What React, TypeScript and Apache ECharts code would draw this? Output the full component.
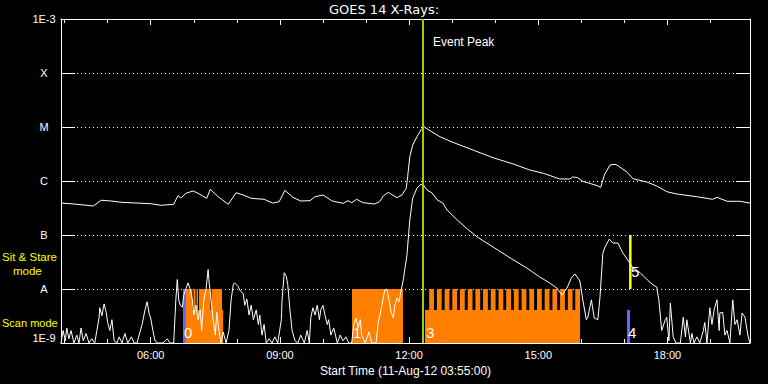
import React, { useEffect, useRef } from "react";
import * as echarts from "echarts";

const FONT = '"Liberation Sans", Arial, sans-serif';
const TITLE_FONT = '"DejaVu Sans", sans-serif';

// ---------- axes ----------
const timeRange = ["03:55", "19:55"];
const xLabelTimes = ["06:00", "09:00", "12:00", "15:00", "18:00"];
const xHourTicks = ["04:00", "05:00", "06:00", "07:00", "08:00", "09:00", "10:00", "11:00", "12:00", "13:00", "14:00", "15:00", "16:00", "17:00", "18:00", "19:00"];
const fluxRange = [1e-9, 1e-3];
const yTickLabels = ["1E-9", "A", "B", "C", "M", "X", "1E-3"];
const xAxisTitle = "Start Time (11-Aug-12 03:55:00)";
const chartTitle = "GOES 14 X-Rays:";
const eventPeakTime = "12:19:24";

// ---------- levels ----------
const FLOOR = 1e-9;
const SCAN_TOP = 4.1e-9;
const A_LEVEL = 1e-8;
const B_LEVEL = 1e-7;

// ---------- GOES 1-8 A (long channel) ----------
const longChannel: [string, number][] = [
  ["03:55", 3.9e-7], ["04:13", 3.75e-7], ["04:23", 3.64e-7], ["04:40", 3.44e-7], ["04:51", 4.4e-7],
  ["05:05", 4.26e-7], ["05:19", 4.03e-7], ["06:00", 3.8e-7], ["06:14", 3.55e-7], ["06:32", 3.7e-7],
  ["06:38", 5.35e-7], ["06:42", 4.84e-7], ["06:49", 5.92e-7], ["06:59", 6.53e-7], ["07:06", 5.92e-7],
  ["07:18", 4.78e-7], ["07:23", 7.0e-7], ["07:34", 5.12e-7], ["07:48", 3.7e-7], ["07:59", 6.07e-7],
  ["08:09", 5.5e-7], ["08:20", 4.78e-7], ["08:38", 4.58e-7], ["08:50", 3.9e-7], ["08:59", 4.14e-7],
  ["09:07", 6.73e-7], ["09:18", 4.99e-7], ["09:29", 4.26e-7], ["09:42", 4.32e-7], ["09:49", 5.12e-7],
  ["10:00", 5.5e-7], ["10:13", 4.26e-7], ["10:28", 3.86e-7], ["10:35", 4.32e-7], ["10:40", 3.96e-7],
  ["10:47", 4.58e-7], ["10:56", 3.96e-7], ["11:12", 3.75e-7], ["11:19", 4.14e-7], ["11:24", 5.27e-7],
  ["11:31", 6.18e-7], ["11:43", 4.91e-7], ["11:50", 5.5e-7], ["11:56", 7.33e-7], ["11:58", 1.2e-6],
  ["12:01", 2.82e-6], ["12:05", 4.64e-6], ["12:11", 6.6e-6], ["12:17", 9.06e-6], ["12:21", 1.01e-5],
  ["12:26", 9.06e-6], ["12:43", 6.6e-6], ["13:01", 5.2e-6], ["13:29", 3.75e-6], ["13:57", 2.7e-6],
  ["14:25", 2.07e-6], ["14:48", 1.6e-6], ["15:07", 1.39e-6], ["15:30", 1.09e-6], ["15:44", 1.09e-6],
  ["15:48", 1.19e-6], ["15:55", 1.15e-6], ["16:02", 9.9e-7], ["16:22", 8.2e-7], ["16:27", 7.64e-7],
  ["16:32", 1.29e-6], ["16:40", 1.98e-6], ["16:47", 2.04e-6], ["16:51", 1.92e-6], ["17:04", 1.45e-6],
  ["17:12", 1.1e-6], ["17:31", 9.6e-7], ["17:45", 8.1e-7], ["17:59", 6.34e-7], ["18:13", 5.74e-7],
  ["18:41", 5.12e-7], ["19:03", 4.58e-7], ["19:09", 4.99e-7], ["19:23", 4.21e-7], ["19:41", 4.21e-7],
  ["19:55", 3.9e-7],
];

// ---------- GOES 0.5-4 A (short channel) ----------
const shortQuietMorning: [string, number][] = [
  ["03:55", 1.0e-9], ["03:58", 1.7e-9], ["04:01", 1.1e-9], ["04:03", 1.9e-9], ["04:06", 1.2e-9],
  ["04:09", 1.7e-9], ["04:13", 1.0e-9], ["04:17", 1.4e-9], ["04:20", 1.0e-9], ["04:23", 1.9e-9],
  ["04:26", 1.1e-9], ["04:30", 1.5e-9], ["04:34", 1.0e-9], ["04:38", 1.2e-9], ["04:42", 1.0e-9],
  ["04:45", 1.7e-9], ["04:48", 2.9e-9], ["04:49", 4.5e-9], ["04:52", 3.2e-9], ["04:55", 5.3e-9],
  ["04:58", 3.7e-9], ["05:00", 2.4e-9], ["05:03", 1.7e-9], ["05:06", 2.7e-9], ["05:09", 1.1e-9],
  ["05:13", 1.0e-9], ["05:16", 1.3e-9], ["05:20", 1.0e-9], ["05:24", 1.5e-9], ["05:28", 1.0e-9],
  ["05:33", 1.3e-9], ["05:37", 1.0e-9], ["05:41", 1.0e-9], ["05:45", 1.6e-9], ["05:48", 2.2e-9],
  ["05:52", 4.1e-9], ["05:55", 5.8e-9], ["05:58", 3.4e-9], ["06:00", 2.9e-9], ["06:03", 1.7e-9],
  ["06:06", 1.1e-9], ["06:10", 1.0e-9], ["06:17", 1.0e-9], ["06:23", 1.2e-9], ["06:27", 1.0e-9],
  ["06:32", 1.0e-9], ["06:35", 6.3e-9], ["06:37", 1.5e-8], ["06:39", 6.3e-9], ["06:41", 5.0e-9],
  ["06:44", 4.6e-9], ["06:46", 7.7e-9], ["06:49", 1.0e-8], ["06:52", 1.3e-8], ["06:55", 1.0e-8],
  ["06:58", 6.3e-9], ["07:00", 3.3e-9], ["07:03", 5.0e-9], ["07:06", 2.7e-9], ["07:09", 4.1e-9],
  ["07:11", 1.7e-9], ["07:14", 6.3e-9], ["07:17", 9.6e-9], ["07:20", 2.3e-8], ["07:21", 1.5e-8],
  ["07:24", 6.3e-9], ["07:27", 2.7e-9], ["07:30", 1.4e-9], ["07:32", 3.7e-9], ["07:35", 1.7e-9],
  ["07:38", 1.0e-9], ["07:41", 1.6e-9], ["07:45", 1.0e-9], ["07:49", 1.7e-9], ["07:52", 6.3e-9],
  ["07:55", 1.2e-8], ["07:57", 1.3e-8], ["08:02", 1.1e-8], ["08:04", 9.6e-9], ["08:09", 8.1e-9],
  ["08:11", 5.0e-9], ["08:14", 6.5e-9], ["08:17", 3.3e-9], ["08:20", 5.0e-9], ["08:23", 2.7e-9],
  ["08:27", 4.1e-9], ["08:30", 2.2e-9], ["08:32", 3.3e-9], ["08:35", 1.4e-9], ["08:38", 2.2e-9],
  ["08:41", 1.0e-9], ["08:45", 1.2e-9], ["08:49", 1.0e-9], ["08:53", 1.3e-9], ["08:57", 1.0e-9],
  ["09:02", 2.7e-9], ["09:03", 6.3e-9], ["09:06", 2.0e-8], ["09:09", 1.7e-8], ["09:11", 1.2e-8],
  ["09:14", 4.1e-9], ["09:17", 1.7e-9], ["09:21", 1.1e-9], ["09:25", 1.0e-9], ["09:29", 1.4e-9],
  ["09:34", 1.0e-9], ["09:38", 1.7e-9], ["09:41", 1.0e-9], ["09:43", 2.9e-9], ["09:46", 4.5e-9],
  ["09:49", 3.3e-9], ["09:52", 5.0e-9], ["09:55", 2.7e-9], ["09:57", 4.1e-9], ["10:00", 5.0e-9],
  ["10:03", 3.2e-9], ["10:06", 2.2e-9], ["10:08", 2.7e-9], ["10:11", 1.4e-9], ["10:15", 1.9e-9],
  ["10:20", 1.0e-9], ["10:24", 1.4e-9], ["10:28", 1.1e-9], ["10:32", 1.3e-9], ["10:36", 1.0e-9],
  ["10:40", 1.0e-9], ["10:43", 2.2e-9], ["10:46", 2.9e-9], ["10:49", 1.9e-9], ["10:52", 2.7e-9],
  ["10:54", 1.4e-9], ["10:59", 1.0e-9], ["11:04", 1.6e-9], ["11:08", 1.0e-9], ["11:14", 1.0e-9],
  ["11:17", 2.4e-9], ["11:20", 3.6e-9], ["11:24", 6.8e-9], ["11:26", 9.6e-9], ["11:29", 1.0e-8],
  ["11:32", 6.3e-9], ["11:35", 3.7e-9], ["11:38", 2.9e-9], ["11:40", 4.8e-9], ["11:43", 6.8e-9],
  ["11:46", 5.8e-9], ["11:49", 9.6e-9], ["11:52", 1.5e-8], ["11:54", 2.3e-8],
];

const shortFlare: [string, number][] = [
  ["11:57", 4.2e-8], ["12:01", 1.9e-7], ["12:05", 4.8e-7], ["12:11", 7.4e-7], ["12:15", 8.4e-7],
  ["12:19", 8.8e-7], ["12:25", 6.8e-7], ["12:32", 6.0e-7], ["12:39", 4.5e-7], ["12:47", 3.9e-7],
  ["12:53", 2.9e-7], ["13:07", 1.9e-7], ["13:21", 1.3e-7], ["13:35", 9.2e-8], ["13:57", 6.0e-8],
  ["14:21", 3.75e-8], ["14:44", 2.45e-8], ["15:02", 1.67e-8], ["15:16", 1.29e-8], ["15:26", 1.04e-8],
  ["15:33", 7.7e-9], ["15:40", 1.04e-8], ["15:46", 1.6e-8], ["15:51", 1.9e-8], ["15:55", 1.6e-8],
  ["15:58", 1.4e-8], ["16:02", 6.3e-9], ["16:07", 2.7e-9], ["16:09", 3.0e-9], ["16:14", 6.3e-9],
  ["16:18", 2.9e-9], ["16:23", 2.7e-9], ["16:26", 7.1e-9], ["16:30", 4.6e-8], ["16:33", 6.0e-8],
  ["16:39", 8.4e-8], ["16:44", 7.1e-8], ["16:51", 7.1e-8], ["16:58", 4.6e-8], ["17:05", 3.4e-8],
  ["17:11", 2.55e-8], ["17:22", 2.0e-8], ["17:32", 1.47e-8], ["17:40", 1.19e-8], ["17:45", 1.09e-8],
];

const shortQuietEvening: [string, number][] = [
  ["17:48", 6.3e-9], ["17:52", 1.7e-9], ["17:57", 2.7e-9], ["17:59", 3.0e-9], ["18:02", 1.1e-9],
  ["18:04", 5.5e-9], ["18:08", 1.3e-9], ["18:12", 1.0e-9], ["18:18", 1.0e-9], ["18:22", 3.0e-9],
  ["18:25", 1.3e-9], ["18:27", 2.7e-9], ["18:32", 1.0e-9], ["18:34", 1.5e-9], ["18:37", 1.0e-9],
  ["18:41", 1.3e-9], ["18:45", 1.0e-9], ["18:50", 1.7e-9], ["18:52", 2.4e-9], ["18:55", 1.0e-9],
  ["18:59", 4.5e-9], ["19:02", 2.2e-9], ["19:05", 4.1e-9], ["19:09", 6.3e-9], ["19:12", 1.7e-9],
  ["19:13", 3.6e-9], ["19:17", 3.7e-9], ["19:20", 1.4e-9], ["19:23", 1.7e-9], ["19:27", 1.0e-9],
  ["19:31", 6.3e-9], ["19:34", 2.2e-9], ["19:37", 2.7e-9], ["19:41", 1.4e-9], ["19:44", 3.6e-9],
  ["19:48", 3.0e-9], ["19:52", 1.4e-9], ["19:55", 1.0e-9],
];

// ---------- observation periods ----------
const sitStareSpans: [string, string][] = [
  ["06:49:12", "06:58:12"], ["06:59:36", "07:02:24"], ["07:03:48", "07:05:54"], ["07:07:18", "07:23:18"],
  ["07:24:42", "07:39:18"], ["10:40:30", "11:51:30"],
  ["12:28:00", "12:34:40"], ["12:38:42", "12:45:22"], ["12:49:30", "12:56:10"], ["13:00:12", "13:06:52"],
  ["13:10:54", "13:17:34"], ["13:21:42", "13:28:22"], ["13:32:24", "13:39:04"], ["13:43:06", "13:49:46"],
  ["13:53:48", "14:00:28"], ["14:04:36", "14:11:16"], ["14:15:18", "14:21:58"], ["14:26:00", "14:32:40"],
  ["14:36:48", "14:43:28"], ["14:47:30", "14:54:10"], ["14:58:12", "15:04:52"], ["15:08:54", "15:15:34"],
  ["15:19:42", "15:26:22"], ["15:30:24", "15:37:04"], ["15:41:06", "15:47:46"], ["15:51:30", "15:58:10"],
];
const scanSpans: [string, string][] = [
  ["06:49:12", "07:41:00"], ["12:22:12", "15:58:12"],
];
const blueSpans: [string, string, number][] = [
  ["06:45:00", "06:49:12", A_LEVEL], ["17:03:42", "17:07:54", SCAN_TOP],
];
const yellowSpans: [string, string][] = [["17:06:30", "17:10:00"]];

const obsNumbers = ["0", "1", "3", "4", "5"];
const obsNumberTimes = ["06:46:24", "10:41:54", "12:23:36", "17:05:00", "17:09:12"];
const obsNumberLevels = [1.56e-9, 1.56e-9, 1.56e-9, 1.56e-9, 2.07e-8];

// ---------- helpers ----------
const toMin = (s: string): number => {
  const p = s.split(":").map(Number);
  return p[0] * 60 + p[1] + (p[2] || 0) / 60;
};
const fmtHM = (m: number): string => {
  const h = Math.floor(m / 60 + 1e-6);
  const mm = Math.round(m - h * 60);
  return String(h).padStart(2, "0") + ":" + String(mm).padStart(2, "0");
};

const rectSeries = (spans: [number, number, number, number][], color: string) => ({
  type: "custom",
  xAxisIndex: 0,
  yAxisIndex: 0,
  z: 1,
  silent: true,
  data: spans,
  encode: { x: [0, 1], y: [2, 3] },
  renderItem: (_params: any, api: any) => {
    const a = api.coord([api.value(0), api.value(3)]);
    const b = api.coord([api.value(1), api.value(2)]);
    return {
      type: "rect",
      shape: { x: a[0], y: a[1], width: b[0] - a[0], height: b[1] - a[1] },
      style: { fill: color },
    };
  },
});

export default function App() {
  const ref = useRef<HTMLDivElement>(null);
  useEffect(() => {
    if (!ref.current) return;
    const chart = echarts.init(ref.current, null, { renderer: "svg" });
    const xMin = toMin(timeRange[0]);
    const xMax = toMin(timeRange[1]);
    const majors = xLabelTimes.map(toMin);
    const hours = xHourTicks.map(toMin);
    const white = "#ffffff";
    const xBase = {
      type: "value",
      min: xMin,
      max: xMax,
      splitLine: { show: false },
      axisLine: { show: true, lineStyle: { color: white, width: 1 } },
    };
    const yBase = {
      type: "log",
      logBase: 10,
      min: fluxRange[0],
      max: fluxRange[1],
      splitNumber: 6,
      axisLine: { show: true, lineStyle: { color: white, width: 1 } },
      axisTick: { show: true, inside: true, length: 14, lineStyle: { color: white, width: 1 } },
      minorTick: { show: false },
    };
    const orange = "#ff8000";
    const option: any = {
      animation: false,
      backgroundColor: "#000000",
      grid: { left: 61, right: 18, top: 19, bottom: 41, containLabel: false },
      xAxis: [
        {
          ...xBase,
          position: "bottom",
          axisTick: { show: true, inside: true, length: 6, customValues: majors, lineStyle: { color: white } },
          axisLabel: {
            show: true, customValues: majors, formatter: (v: number) => fmtHM(v),
            color: white, fontSize: 11, fontFamily: FONT, margin: 6,
          },
          name: xAxisTitle,
          nameLocation: "middle",
          nameGap: 18,
          nameTextStyle: { color: white, fontSize: 12, fontFamily: FONT },
        },
        {
          ...xBase, position: "bottom", axisLine: { show: false },
          axisTick: { show: true, inside: true, length: 4, customValues: hours, lineStyle: { color: white } },
          axisLabel: { show: false },
        },
        {
          ...xBase, position: "top",
          axisTick: { show: true, inside: true, length: 6, customValues: majors, lineStyle: { color: white } },
          axisLabel: { show: false },
        },
        {
          ...xBase, position: "top", axisLine: { show: false },
          axisTick: { show: true, inside: true, length: 4, customValues: hours, lineStyle: { color: white } },
          axisLabel: { show: false },
        },
      ],
      yAxis: [
        {
          ...yBase,
          position: "left",
          axisLabel: {
            show: true, color: white, fontSize: 11, fontFamily: FONT, margin: 17, align: "center",
            formatter: (v: number) => yTickLabels[Math.round(Math.log10(v)) + 9] ?? "",
            verticalAlignMinLabel: "bottom",
            verticalAlignMaxLabel: "top",
          },
          splitLine: { show: true, lineStyle: { color: white, width: 1, type: [1, 3] } },
        },
        {
          ...yBase,
          position: "right",
          axisLabel: { show: false },
          splitLine: { show: false },
        },
      ],
      graphic: [
        {
          type: "text", left: "center", top: 3,
          style: { text: chartTitle, fill: white, fontSize: 13, fontFamily: TITLE_FONT },
        },
        {
          type: "text", left: 433, top: 36,
          style: { text: "Event Peak", fill: white, fontSize: 12, fontFamily: FONT },
        },
        {
          type: "text", left: 2, top: 251,
          style: { text: "Sit & Stare", fill: "#ffff00", fontSize: 11.5, fontFamily: FONT },
        },
        {
          type: "text", left: 13, top: 265,
          style: { text: "mode", fill: "#ffff00", fontSize: 11.5, fontFamily: FONT },
        },
        {
          type: "text", left: 2, top: 317,
          style: { text: "Scan mode", fill: "#ffff00", fontSize: 11, fontFamily: FONT },
        },
      ],
      series: [
        rectSeries(scanSpans.map(([s, e]) => [toMin(s), toMin(e), FLOOR, SCAN_TOP]), orange),
        rectSeries(sitStareSpans.map(([s, e]) => [toMin(s), toMin(e), FLOOR, A_LEVEL]), orange),
        rectSeries(blueSpans.map(([s, e, top]) => [toMin(s), toMin(e), FLOOR, top]), "#6666ff"),
        rectSeries(yellowSpans.map(([s, e]) => [toMin(s), toMin(e), A_LEVEL, B_LEVEL]), "#ffff00"),
        {
          type: "line",
          xAxisIndex: 0,
          yAxisIndex: 0,
          z: 3,
          silent: true,
          symbol: "none",
          lineStyle: { color: white, width: 1 },
          data: [...shortQuietMorning, ...shortFlare, ...shortQuietEvening].map(([t, f]) => [toMin(t), f]),
        },
        {
          type: "line",
          xAxisIndex: 0,
          yAxisIndex: 0,
          z: 3,
          silent: true,
          symbol: "none",
          lineStyle: { color: white, width: 1 },
          data: longChannel.map(([t, f]) => [toMin(t), f]),
          markLine: {
            silent: true,
            z: 5,
            symbol: ["none", "none"],
            label: { show: false },
            lineStyle: { color: "#a0d000", width: 2, type: "solid" },
            data: [{ xAxis: toMin(eventPeakTime) }],
          },
        },
        {
          type: "custom",
          xAxisIndex: 0,
          yAxisIndex: 0,
          z: 7,
          silent: true,
          data: obsNumberTimes.map((t, i) => [toMin(t), obsNumberLevels[i]]),
          renderItem: (params: any, api: any) => {
            const p = api.coord([api.value(0), api.value(1)]);
            return {
              type: "text",
              x: p[0],
              y: p[1],
              style: {
                text: obsNumbers[params.dataIndex],
                fill: "#ffffff",
                fontSize: 15,
                fontFamily: FONT,
                align: "left",
                verticalAlign: "middle",
              },
            };
          },
        },
      ],
    };
    chart.setOption(option);
    return () => chart.dispose();
  }, []);
  return (
    <div
      ref={ref}
      style={{ position: "fixed", left: 0, top: 0, width: 768, height: 384, background: "#000" }}
    />
  );
}
